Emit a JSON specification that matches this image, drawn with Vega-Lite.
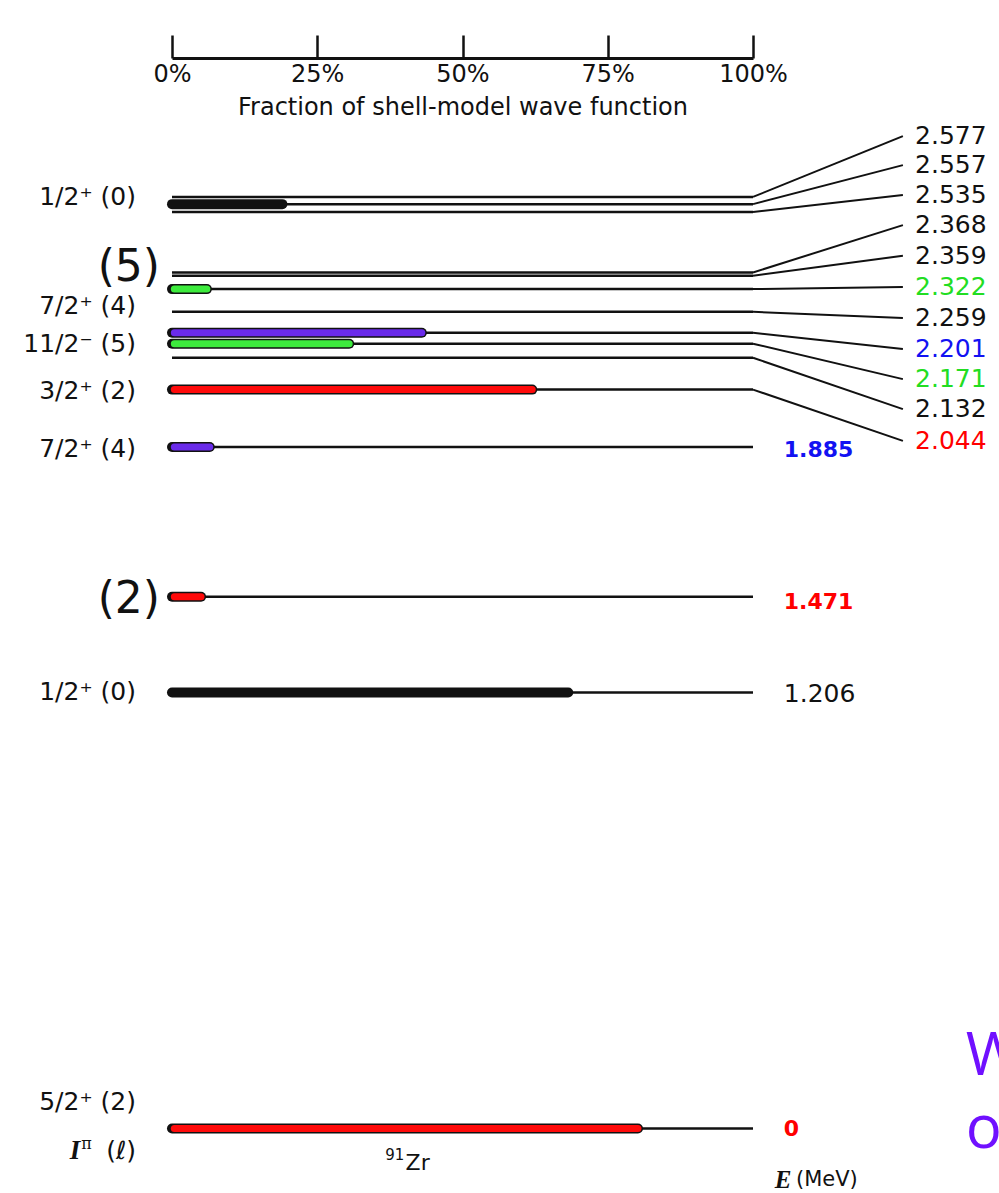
{
  "$schema": "https://vega.github.io/schema/vega-lite/v6.json",
  "width": 999,
  "height": 1193,
  "autosize": {"type": "none"},
  "padding": 0,
  "background": "white",
  "config": {"view": {"stroke": null}, "axisY": {"disable": true}},
  "datasets": {
    "levels": [
      {"E": 2.577, "label": "2.577", "frac": 0, "l": "none", "lab_E": 2.745, "grp": "upper"},
      {"E": 2.557, "label": "2.557", "frac": 19, "l": "0", "lab_E": 2.665, "grp": "upper"},
      {"E": 2.535, "label": "2.535", "frac": 0, "l": "none", "lab_E": 2.582, "grp": "upper"},
      {"E": 2.368, "label": "2.368", "frac": 0, "l": "none", "lab_E": 2.499, "grp": "upper"},
      {"E": 2.359, "label": "2.359", "frac": 0, "l": "none", "lab_E": 2.414, "grp": "upper"},
      {"E": 2.322, "label": "2.322", "frac": 6, "l": "5", "lab_E": 2.328, "grp": "upper"},
      {"E": 2.259, "label": "2.259", "frac": 0, "l": "none", "lab_E": 2.242, "grp": "upper"},
      {"E": 2.201, "label": "2.201", "frac": 43, "l": "4", "lab_E": 2.156, "grp": "upper"},
      {"E": 2.171, "label": "2.171", "frac": 30.5, "l": "5", "lab_E": 2.073, "grp": "upper"},
      {"E": 2.132, "label": "2.132", "frac": 0, "l": "none", "lab_E": 1.99, "grp": "upper"},
      {"E": 2.044, "label": "2.044", "frac": 62, "l": "2", "lab_E": 1.902, "grp": "upper"},
      {"E": 1.885, "label": "1.885", "frac": 6.5, "l": "4", "lab_E": 1.876, "grp": "lower"},
      {"E": 1.471, "label": "1.471", "frac": 5, "l": "2", "lab_E": 1.456, "grp": "lower"},
      {"E": 1.206, "label": "1.206", "frac": 68.2, "l": "0", "lab_E": 1.202, "grp": "lower"},
      {"E": 0, "label": "0", "frac": 80.2, "l": "2", "lab_E": 0, "grp": "lower"}
    ],
    "spins": [
      {"text": "1/2⁺  (0)", "E": 2.577},
      {"text": "7/2⁺  (4)", "E": 2.275},
      {"text": "11/2⁻  (5)", "E": 2.17},
      {"text": "3/2⁺  (2)", "E": 2.04},
      {"text": "7/2⁺  (4)", "E": 1.879},
      {"text": "1/2⁺  (0)", "E": 1.208},
      {"text": "5/2⁺  (2)", "E": 0.073},
      {"text": "(ℓ)", "E": -0.062}
    ],
    "bigspins": [
      {"text": "(5)", "E": 2.38},
      {"text": "(2)", "E": 1.462}
    ]
  },
  "layer": [
    {
      "data": {"name": "levels"},
      "mark": {"type": "rule", "color": "#111111", "strokeWidth": 2.5},
      "encoding": {
        "x": {"datum": 0, "type": "quantitative"},
        "x2": {"datum": 100},
        "y": {"field": "E", "type": "quantitative"}
      }
    },
    {
      "data": {"name": "levels"},
      "transform": [{"filter": "datum.frac > 0"}],
      "mark": {"type": "rule", "color": "#111111", "strokeWidth": 10, "strokeCap": "round"},
      "encoding": {
        "x": {
          "field": "frac",
          "type": "quantitative",
          "scale": {"domain": [0, 100], "range": [172, 753], "nice": false, "zero": false},
          "axis": {
            "orient": "top",
            "offset": -58,
            "values": [0, 25, 50, 75, 100],
            "labelExpr": "datum.value + '%'",
            "grid": false,
            "domain": true,
            "ticks": true,
            "labels": true,
            "domainColor": "#111111",
            "domainWidth": 3,
            "tickColor": "#111111",
            "tickWidth": 2.5,
            "tickSize": 23,
            "labelPadding": -27,
            "labelBaseline": "top",
            "labelFlush": false,
            "labelOverlap": false,
            "labelFont": "DejaVu Sans",
            "labelFontSize": 24,
            "labelColor": "#111111",
            "title": "Fraction of shell-model wave function",
            "titleFont": "DejaVu Sans",
            "titleFontSize": 24,
            "titleFontWeight": "normal",
            "titleColor": "#111111",
            "titleY": 49,
            "titleBaseline": "middle"
          }
        },
        "x2": {"datum": 0},
        "y": {
          "field": "E",
          "type": "quantitative",
          "scale": {"domain": [0, 3], "range": [1128.5, 44], "nice": false, "zero": false}
        }
      }
    },
    {
      "data": {"name": "levels"},
      "transform": [{"filter": "datum.frac > 0 && datum.l != '0'"}],
      "mark": {"type": "rule", "strokeWidth": 7, "strokeCap": "round"},
      "encoding": {
        "x": {"field": "frac", "type": "quantitative"},
        "x2": {"datum": 0.4},
        "y": {"field": "E", "type": "quantitative"},
        "stroke": {
          "field": "l",
          "type": "nominal",
          "scale": {"domain": ["2", "4", "5"], "range": ["#FF0A0A", "#6A2BEA", "#3DEB3D"]},
          "legend": null
        }
      }
    },
    {
      "data": {"name": "levels"},
      "transform": [{"filter": "datum.grp == 'upper'"}],
      "mark": {"type": "rule", "color": "#111111", "strokeWidth": 2},
      "encoding": {
        "x": {"datum": 100, "type": "quantitative"},
        "x2": {"datum": 125.8},
        "y": {"field": "E", "type": "quantitative"},
        "y2": {"field": "lab_E"}
      }
    },
    {
      "data": {"name": "levels"},
      "transform": [{"filter": "datum.grp == 'upper'"}],
      "mark": {"type": "text", "align": "left", "baseline": "middle", "font": "DejaVu Sans", "fontSize": 25},
      "encoding": {
        "x": {"datum": 127.9, "type": "quantitative"},
        "y": {"field": "lab_E", "type": "quantitative"},
        "text": {"field": "label"},
        "fill": {
          "field": "l",
          "type": "nominal",
          "scale": {"domain": ["none", "0", "2", "4", "5"], "range": ["#111111", "#111111", "#FF0000", "#1212F2", "#22DD22"]},
          "legend": null
        }
      }
    },
    {
      "data": {"name": "levels"},
      "transform": [{"filter": "datum.grp == 'lower' && datum.l == '0'"}],
      "mark": {"type": "text", "align": "left", "baseline": "middle", "font": "DejaVu Sans", "fontSize": 25, "color": "#111111"},
      "encoding": {
        "x": {"datum": 105.3, "type": "quantitative"},
        "y": {"field": "lab_E", "type": "quantitative"},
        "text": {"field": "label"}
      }
    },
    {
      "data": {"name": "levels"},
      "transform": [{"filter": "datum.grp == 'lower' && datum.l != '0'"}],
      "mark": {"type": "text", "align": "left", "baseline": "middle", "font": "DejaVu Sans", "fontSize": 22, "fontWeight": "bold"},
      "encoding": {
        "x": {"datum": 105.3, "type": "quantitative"},
        "y": {"field": "lab_E", "type": "quantitative"},
        "text": {"field": "label"},
        "fill": {"field": "l", "type": "nominal", "legend": null}
      }
    },
    {
      "data": {"name": "spins"},
      "mark": {"type": "text", "align": "right", "baseline": "middle", "font": "DejaVu Sans", "fontSize": 25, "color": "#111111"},
      "encoding": {
        "x": {"datum": -6.2, "type": "quantitative"},
        "y": {"field": "E", "type": "quantitative"},
        "text": {"field": "text"}
      }
    },
    {
      "data": {"name": "bigspins"},
      "mark": {"type": "text", "align": "right", "baseline": "middle", "font": "DejaVu Sans", "fontSize": 44, "color": "#111111"},
      "encoding": {
        "x": {"datum": -2.07, "type": "quantitative"},
        "y": {"field": "E", "type": "quantitative"},
        "text": {"field": "text"}
      }
    },
    {
      "data": {"values": [{"text": "I", "E": -0.062}]},
      "mark": {"type": "text", "align": "right", "baseline": "middle", "font": "Liberation Serif", "fontStyle": "italic", "fontWeight": "bold", "fontSize": 27, "color": "#111111"},
      "encoding": {
        "x": {"datum": -15.8, "type": "quantitative"},
        "y": {"field": "E", "type": "quantitative"},
        "text": {"field": "text"}
      }
    },
    {
      "data": {"values": [{"text": "π", "E": -0.042}]},
      "mark": {"type": "text", "align": "left", "baseline": "middle", "font": "DejaVu Serif", "fontSize": 16, "color": "#111111"},
      "encoding": {
        "x": {"datum": -15.6, "type": "quantitative"},
        "y": {"field": "E", "type": "quantitative"},
        "text": {"field": "text"}
      }
    },
    {
      "data": {"values": [{"text": "91", "E": -0.073}]},
      "mark": {"type": "text", "align": "right", "baseline": "middle", "font": "DejaVu Sans", "fontSize": 15, "color": "#111111"},
      "encoding": {
        "x": {"datum": 40.0, "type": "quantitative"},
        "y": {"field": "E", "type": "quantitative"},
        "text": {"field": "text"}
      }
    },
    {
      "data": {"values": [{"text": "Zr", "E": -0.096}]},
      "mark": {"type": "text", "align": "left", "baseline": "middle", "font": "DejaVu Sans", "fontSize": 22, "color": "#111111"},
      "encoding": {
        "x": {"datum": 40.2, "type": "quantitative"},
        "y": {"field": "E", "type": "quantitative"},
        "text": {"field": "text"}
      }
    },
    {
      "data": {"values": [{"text": "E", "E": -0.142}]},
      "mark": {"type": "text", "align": "right", "baseline": "middle", "font": "Liberation Serif", "fontStyle": "italic", "fontWeight": "bold", "fontSize": 25, "color": "#111111"},
      "encoding": {
        "x": {"datum": 106.6, "type": "quantitative"},
        "y": {"field": "E", "type": "quantitative"},
        "text": {"field": "text"}
      }
    },
    {
      "data": {"values": [{"text": "(MeV)", "E": -0.142}]},
      "mark": {"type": "text", "align": "left", "baseline": "middle", "font": "DejaVu Sans", "fontSize": 21, "color": "#111111"},
      "encoding": {
        "x": {"datum": 107.4, "type": "quantitative"},
        "y": {"field": "E", "type": "quantitative"},
        "text": {"field": "text"}
      }
    },
    {
      "data": {"values": [{"text": "W", "E": 0.148}, {"text": "o", "E": -0.054}]},
      "mark": {"type": "text", "align": "left", "baseline": "alphabetic", "font": "Open Sans", "fontSize": 60, "color": "#7010FF"},
      "encoding": {
        "x": {"datum": 136.6, "type": "quantitative"},
        "y": {"field": "E", "type": "quantitative"},
        "text": {"field": "text"}
      }
    }
  ]
}
